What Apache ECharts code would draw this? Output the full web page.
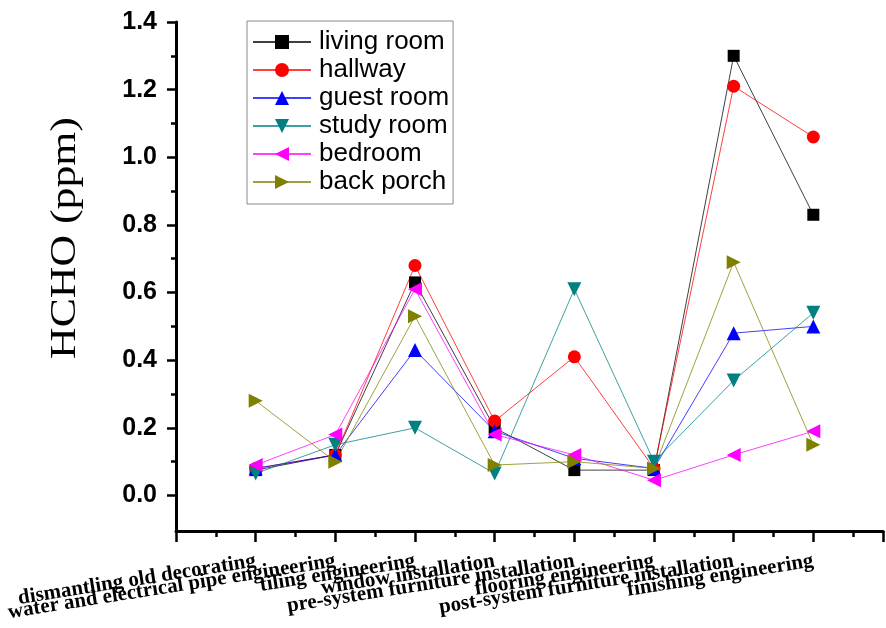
<!DOCTYPE html>
<html>
<head>
<meta charset="utf-8">
<script src="https://cdn.jsdelivr.net/npm/echarts@6/dist/echarts.min.js"></script>
<style>
  html, body { margin: 0; padding: 0; background: #fff; }
  #chart { width: 886px; height: 628px; }
</style>
</head>
<body>
<div id="chart"></div>
<script>
// Construction stages (x positions 1..8)
const stages = [
  'dismantling old decorating',
  'water and electrical pipe engineering',
  'tiling engineering',
  'window installation',
  'pre-system furniture installation',
  'flooring engineering',
  'post-system furniture installation',
  'finishing engineering'
];

// HCHO concentration (ppm) per room at each stage
const livingRoom = [0.075, 0.12, 0.63, 0.20, 0.075, 0.075, 1.30, 0.83];
const hallway    = [0.08, 0.12, 0.68, 0.22, 0.41, 0.08, 1.21, 1.06];
const guestRoom  = [0.08, 0.12, 0.43, 0.19, 0.11, 0.08, 0.48, 0.50];
const studyRoom  = [0.065, 0.15, 0.20, 0.065, 0.61, 0.10, 0.34, 0.54];
const bedroom    = [0.09, 0.18, 0.61, 0.18, 0.12, 0.045, 0.12, 0.19];
const backPorch  = [0.28, 0.10, 0.53, 0.09, 0.10, 0.08, 0.69, 0.15];

// Y tick values
const yMajorTicks = [0, 0.2, 0.4, 0.6, 0.8, 1.0, 1.2, 1.4];
const yMinorTicks = [0.1, 0.3, 0.5, 0.7, 0.9, 1.1, 1.3];

const roomSeries = [
  { name: 'living room', values: livingRoom, color: '#000000', symbol: 'rect', size: 12, rotate: 0 },
  { name: 'hallway', values: hallway, color: '#ff0000', symbol: 'circle', size: 13, rotate: 0 },
  { name: 'guest room', values: guestRoom, color: '#0000ff', symbol: 'triangle', size: 14, rotate: 0 },
  { name: 'study room', values: studyRoom, color: '#008080', symbol: 'triangle', size: 14, rotate: 180 },
  { name: 'bedroom', values: bedroom, color: '#ff00ff', symbol: 'triangle', size: 14, rotate: 90 },
  { name: 'back porch', values: backPorch, color: '#808000', symbol: 'triangle', size: 14, rotate: -90 }
];

const chart = echarts.init(document.getElementById('chart'), null, { renderer: 'canvas' });

const axisColor = '#000';
const X_MAX = 8.875;
const Y_MIN = -0.105;
const Y_MAX = 1.4;

const option = {
  animation: false,
  backgroundColor: '#fff',
  grid: { left: 176, top: 22, right: 0, bottom: 97, containLabel: false },
  legend: {
    orient: 'vertical',
    left: 247,
    top: 21,
    padding: [7, 4, 8, 5],
    itemWidth: 58,
    itemHeight: 17.5,
    itemGap: 0,
    borderColor: '#888',
    borderWidth: 1,
    textStyle: {
      fontFamily: 'Liberation Sans, Arial, sans-serif',
      fontSize: 26,
      lineHeight: 28,
      color: '#000',
      padding: [0, 0, 0, 3]
    },
    data: roomSeries.map(s => s.name)
  },
  xAxis: {
    type: 'value',
    min: 0,
    max: X_MAX,
    interval: 1,
    axisLine: { onZero: false, lineStyle: { color: axisColor, width: 3 } },
    axisTick: { inside: false, length: 11, lineStyle: { color: axisColor, width: 2.5 } },
    minorTick: { show: true, splitNumber: 2, length: 6, lineStyle: { color: axisColor, width: 2.5 } },
    splitLine: { show: false },
    axisLabel: {
      hideOverlap: false,
      showMinLabel: true,
      showMaxLabel: true,
      rotate: 9,
      margin: 30,
      fontFamily: 'Liberation Serif, Times New Roman, serif',
      fontWeight: 'bold',
      fontSize: 21,
      color: '#000',
      formatter: v => (Number.isInteger(v) && v >= 1 && v <= stages.length) ? stages[v - 1] : ''
    }
  },
  yAxis: [
    {
      type: 'value',
      min: Y_MIN,
      max: Y_MAX,
      axisLine: { onZero: false, lineStyle: { color: axisColor, width: 3 } },
      axisTick: { inside: false, length: 9, interval: 0, customValues: yMajorTicks, lineStyle: { color: axisColor, width: 2.5 } },
      splitLine: { show: false },
      axisLabel: {
        customValues: yMajorTicks,
        interval: 0,
        margin: 19,
        fontFamily: 'Liberation Sans, Arial, sans-serif',
        fontWeight: 'bold',
        fontSize: 25,
        color: '#000',
        formatter: v => v.toFixed(1)
      }
    },
    {
      type: 'value',
      min: Y_MIN,
      max: Y_MAX,
      position: 'left',
      axisLine: { show: false, onZero: false },
      axisTick: { inside: false, length: 5, interval: 0, customValues: yMinorTicks, lineStyle: { color: axisColor, width: 2.5 } },
      axisLabel: { show: false },
      splitLine: { show: false }
    }
  ],
  graphic: [
    {
      type: 'text',
      x: 66,
      y: 238,
      rotation: Math.PI / 2,
      scaleX: 1.25,
      style: {
        text: 'HCHO (ppm)',
        fontFamily: 'Liberation Serif, Times New Roman, serif',
        fontSize: 35,
        fill: '#000',
        align: 'center',
        verticalAlign: 'middle'
      }
    }
  ],
  series: roomSeries.map(s => ({
    name: s.name,
    type: 'line',
    xAxisIndex: 0,
    yAxisIndex: 0,
    data: s.values.map((v, i) => [i + 1, v]),
    symbol: s.symbol,
    symbolSize: s.size,
    symbolRotate: s.rotate,
    showSymbol: true,
    lineStyle: { color: s.color, width: 1, opacity: 0.75 },
    itemStyle: { color: s.color },
    emphasis: { disabled: true }
  }))
};

chart.setOption(option);
</script>
</body>
</html>
